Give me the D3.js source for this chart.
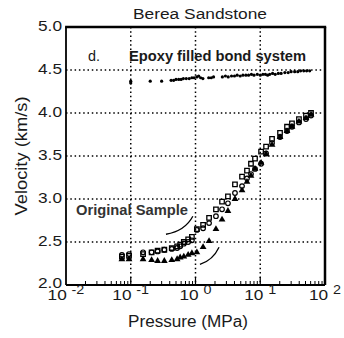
<!DOCTYPE html>
<html><head><meta charset="utf-8">
<script src="https://cdn.jsdelivr.net/npm/d3@7"></script>
<style>
body{margin:0;background:#fff;}
svg{display:block;font-family:"Liberation Sans",Arial,sans-serif;}
</style></head>
<body><svg id="c" width="344" height="338"></svg>
<script>
// ---- data (pressure MPa, velocity km/s) ----
const pressures = [0.073,0.094,0.155,0.21,0.26,0.33,0.43,0.52,0.58,0.66,0.77,0.88,1.05,1.31,1.62,2.07,2.57,3.17,4.07,5.23,6.24,7.19,8.3,10.3,12.3,15.2,20.2,25.9,30.9,39.6,50.9,60.8];
const squareV   = [2.33,2.34,2.36,2.38,2.40,2.41,2.43,2.45,2.47,2.50,2.53,2.56,2.65,2.70,2.78,2.88,2.97,3.03,3.17,3.26,3.33,3.41,3.47,3.55,3.61,3.70,3.77,3.84,3.88,3.93,3.97,4.00];
const circleV   = [2.35,2.36,2.38,2.38,2.39,2.41,2.42,2.43,2.45,2.48,2.50,2.52,2.64,2.66,2.72,2.80,2.88,2.95,3.07,3.15,3.24,3.29,3.35,3.41,3.53,3.65,3.72,3.79,3.84,3.89,3.93,3.97];
const triangleV = [2.30,2.30,2.30,2.29,2.28,2.28,2.29,2.30,2.32,2.33,2.35,2.37,2.38,2.44,2.51,2.65,2.76,2.86,3.00,3.10,3.20,3.27,3.35,3.42,3.52,3.63,3.72,3.79,3.84,3.90,3.94,3.98];
const epoxyP = [0.1,0.1,0.2,0.3,0.42,0.46,0.5,0.55,0.6,0.65,0.72,0.8,0.88,0.95,1.05,1.12,1.2,1.3,1.6,1.75,1.9,2.6,2.9,3.2,3.6,4.0,4.4,4.9,5.4,6,6.6,7.3,8,9,10,11,12,13,14,15.5,17,19,21,24,27,30,34,38,42,47,52,58];
const epoxyV = [4.35,4.37,4.37,4.37,4.38,4.38,4.39,4.39,4.39,4.40,4.40,4.40,4.41,4.41,4.42,4.43,4.41,4.40,4.41,4.41,4.42,4.42,4.43,4.42,4.43,4.43,4.44,4.43,4.44,4.44,4.44,4.45,4.44,4.45,4.44,4.45,4.45,4.44,4.45,4.46,4.45,4.46,4.46,4.47,4.47,4.48,4.48,4.48,4.49,4.49,4.49,4.49];
const yTicks = [2.0,2.5,3.0,3.5,4.0,4.5,5.0];
const yGrid = [2.5,3.0,3.5,4.0,4.5];
const xTicks = [0.01,0.1,1,10,100];
const xTickExp = ["-2","-1","0","1","2"];
const xGrid = [0.1,1,10];
// annotation arcs: [start, control, end] in (P, V)
const arcUpper = [[0.35,2.59],[0.69,2.63],[0.91,2.80]];
const arcLower = [[1.17,2.24],[1.86,2.29],[2.31,2.44]];

const svg = d3.select("#c");
const L=66,R=325,T=27,B=285;
const x = d3.scaleLog().domain([0.01,100]).range([L,R]);
const y = d3.scaleLinear().domain([2,5]).range([B,T]);
const SX = 1.15;
const TXT = "#1a1a1a";

// grid
const dash = "1.5,2.8";
svg.append("g").selectAll("line").data(yGrid).join("line")
  .attr("x1",L).attr("x2",R).attr("y1",d=>y(d)).attr("y2",d=>y(d))
  .attr("stroke","#000").attr("stroke-width",1.5).attr("stroke-dasharray",dash);
svg.append("g").selectAll("line").data(xGrid).join("line")
  .attr("y1",T).attr("y2",B).attr("x1",d=>x(d)).attr("x2",d=>x(d))
  .attr("stroke","#000").attr("stroke-width",1.5).attr("stroke-dasharray",dash);

// x axis ticks (inward)
const minor = [];
for (let e=-2;e<2;e++) for (let m=2;m<=9;m++) minor.push(m*Math.pow(10,e));
svg.append("g").selectAll("line").data(minor).join("line")
  .attr("x1",d=>x(d)).attr("x2",d=>x(d)).attr("y1",B).attr("y2",B-4)
  .attr("stroke","#000").attr("stroke-width",1);
svg.append("g").selectAll("line").data(xGrid).join("line")
  .attr("x1",d=>x(d)).attr("x2",d=>x(d)).attr("y1",B).attr("y2",B-8)
  .attr("stroke","#000").attr("stroke-width",1.2);

// frame
svg.append("line").attr("x1",L).attr("x2",L).attr("y1",T).attr("y2",B).attr("stroke","#000").attr("stroke-width",1.8);
svg.append("line").attr("x1",L).attr("x2",R).attr("y1",B).attr("y2",B).attr("stroke","#000").attr("stroke-width",1.8);
svg.append("line").attr("x1",L-0.9).attr("x2",R+1.2).attr("y1",T).attr("y2",T).attr("stroke","#000").attr("stroke-width",2.5);
svg.append("line").attr("x1",R).attr("x2",R).attr("y1",T).attr("y2",B).attr("stroke","#000").attr("stroke-width",2.5);

// y tick labels
svg.append("g").selectAll("g").data(yTicks).join("g")
  .attr("transform",d=>`translate(62,${y(d)+(d===2?2.5:4)}) scale(${SX},1)`)
  .append("text").attr("text-anchor","end").attr("font-size",15).attr("fill",TXT)
  .text(d=>d.toFixed(1));

// x tick labels
const xl = svg.append("g").selectAll("g").data(xTicks).join("g")
  .attr("transform",d=>`translate(${x(d)},300) scale(${SX},1)`)
  .append("text").attr("text-anchor","middle").attr("font-size",15).attr("fill",TXT);
xl.append("tspan").text("10 ");
xl.append("tspan").attr("font-size",12.5).attr("dy",-6).text((d,i)=>xTickExp[i]);

// axis titles
svg.append("text").attr("x",188).attr("y",327).attr("text-anchor","middle")
  .attr("font-size",16).attr("fill",TXT).attr("textLength",120).attr("lengthAdjust","spacingAndGlyphs")
  .text("Pressure (MPa)");
svg.append("text").attr("transform",`translate(27,${(T+B)/2}) rotate(-90)`).attr("text-anchor","middle")
  .attr("font-size",16).attr("fill",TXT).attr("textLength",119).attr("lengthAdjust","spacingAndGlyphs")
  .text("Velocity (km/s)");
svg.append("text").attr("x",200).attr("y",18.5).attr("text-anchor","middle")
  .attr("font-size",15.5).attr("fill",TXT).attr("textLength",134).attr("lengthAdjust","spacingAndGlyphs")
  .text("Berea Sandstone");

// annotations
svg.append("text").attr("x",x(0.0219)).attr("y",y(4.60)).attr("font-size",15).attr("fill",TXT)
  .attr("textLength",12).attr("lengthAdjust","spacingAndGlyphs").text("d.");
svg.append("text").attr("x",x(0.094)).attr("y",y(4.61)).attr("font-size",14).attr("font-weight","bold").attr("fill",TXT)
  .attr("textLength",177).attr("lengthAdjust","spacingAndGlyphs").text("Epoxy filled bond system");
svg.append("text").attr("x",x(0.0143)).attr("y",y(2.81)).attr("font-size",14).attr("font-weight","bold").attr("fill","#333")
  .attr("textLength",112).attr("lengthAdjust","spacingAndGlyphs").text("Original Sample");

const arcPath = a => `M${x(a[0][0])},${y(a[0][1])}Q${x(a[1][0])},${y(a[1][1])} ${x(a[2][0])},${y(a[2][1])}`;
[arcUpper,arcLower].forEach(a=>svg.append("path").attr("d",arcPath(a)).attr("fill","none").attr("stroke","#000").attr("stroke-width",1.3));

// data marks
const sq = d3.symbol().type(d3.symbolSquare).size(20);
const tri = d3.symbol().type(d3.symbolTriangle).size(20);
svg.append("g").selectAll("path").data(pressures).join("path")
  .attr("d",tri).attr("transform",(d,i)=>`translate(${x(d)},${y(triangleV[i])})`).attr("fill","#000");
svg.append("g").selectAll("circle").data(pressures).join("circle")
  .attr("cx",d=>x(d)).attr("cy",(d,i)=>y(circleV[i])).attr("r",2.3)
  .attr("fill","none").attr("stroke","#000").attr("stroke-width",1.2);
svg.append("g").selectAll("path").data(pressures).join("path")
  .attr("d",sq).attr("transform",(d,i)=>`translate(${x(d)},${y(squareV[i])})`)
  .attr("fill","none").attr("stroke","#000").attr("stroke-width",1.3);
svg.append("g").selectAll("circle").data(epoxyP).join("circle")
  .attr("cx",d=>x(d)).attr("cy",(d,i)=>y(epoxyV[i])).attr("r",1.6).attr("fill","#000");
</script></body></html>
